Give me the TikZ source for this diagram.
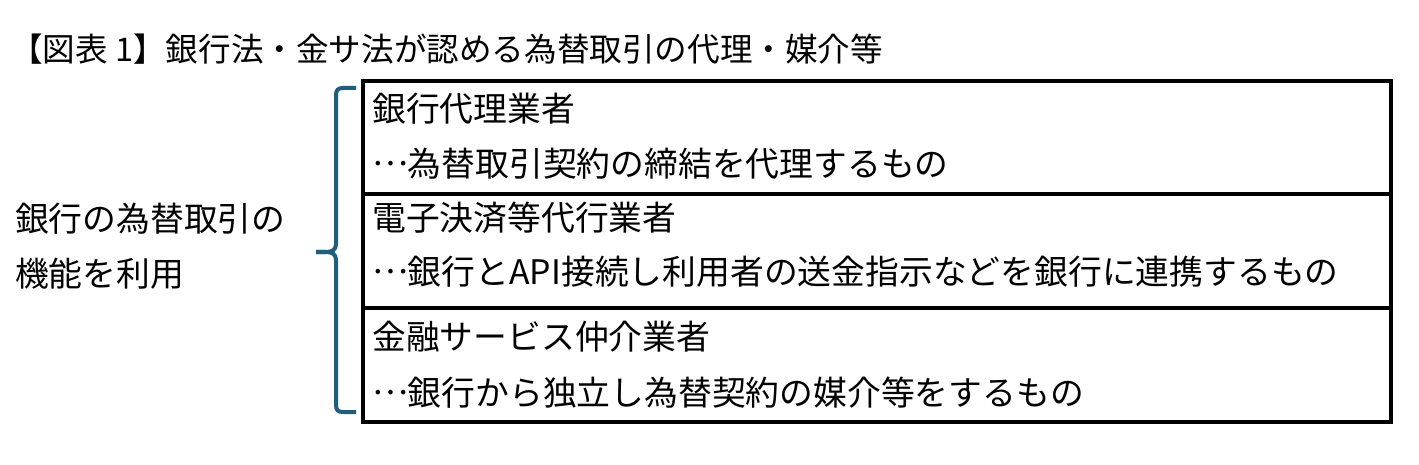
\documentclass[tikz,border=0pt]{standalone}
\usepackage{fontspec}
\setmainfont{Noto Sans CJK JP}
\definecolor{bracecol}{RGB}{31,95,125}
\newcommand{\middots}{\raisebox{0.32em}{…}}
\tikzset{
  title/.style={anchor=base west, inner sep=0pt, font=\fontsize{32.6}{38}\selectfont},
  txt/.style={anchor=base west, inner sep=0pt, font=\fontsize{33.8}{40}\selectfont},
  frame/.style={draw=black, line width=3.6pt},
  bracestyle/.style={draw=bracecol, line width=4pt, line cap=butt}
}
\begin{document}
\begin{tikzpicture}[x=1pt,y=-1pt]
\useasboundingbox (0,0) rectangle (1419,465);
% title
\node[title] (t) at (10,61.5) {【図表 1】銀行法・金サ法が認める為替取引の代理・媒介等};
% boxes
\draw[frame] (363,81) rectangle (1391,194);
\draw[frame] (363,194) rectangle (1391,308);
\draw[frame] (363,308) rectangle (1391,422);
% box texts (baseline = visual centre + 12.7)
\node[txt] (a1) at (372,121.7) {銀行代理業者};
\node[txt] (a2) at (372,176.7) {\middots 為替取引契約の締結を代理するもの};
\node[txt] (b1) at (372,230.7) {電子決済等代行業者};
\node[txt] (b2) at (372,284.7) {\middots 銀行とAPI接続し利用者の送金指示などを銀行に連携するもの};
\node[txt] (c1) at (372,349.7) {金融サービス仲介業者};
\node[txt] (c2) at (372,405.7) {\middots 銀行から独立し為替契約の媒介等をするもの};
% left text
\node[txt] (l1) at (15,231.7) {銀行の為替取引の};
\node[txt] (l2) at (15,286.7) {機能を利用};
% brace
\draw[bracestyle] (356,88) -- (343,88) .. controls (338,88) and (336,90) .. (336,95)
  -- (336,244) .. controls (336,250) and (332,252) .. (326,252) -- (316,252);
\draw[bracestyle] (316,252) -- (326,252) .. controls (332,252) and (336,254) .. (336,260)
  -- (336,405) .. controls (336,410) and (338,412) .. (343,412) -- (356,412);
\end{tikzpicture}
\end{document}
